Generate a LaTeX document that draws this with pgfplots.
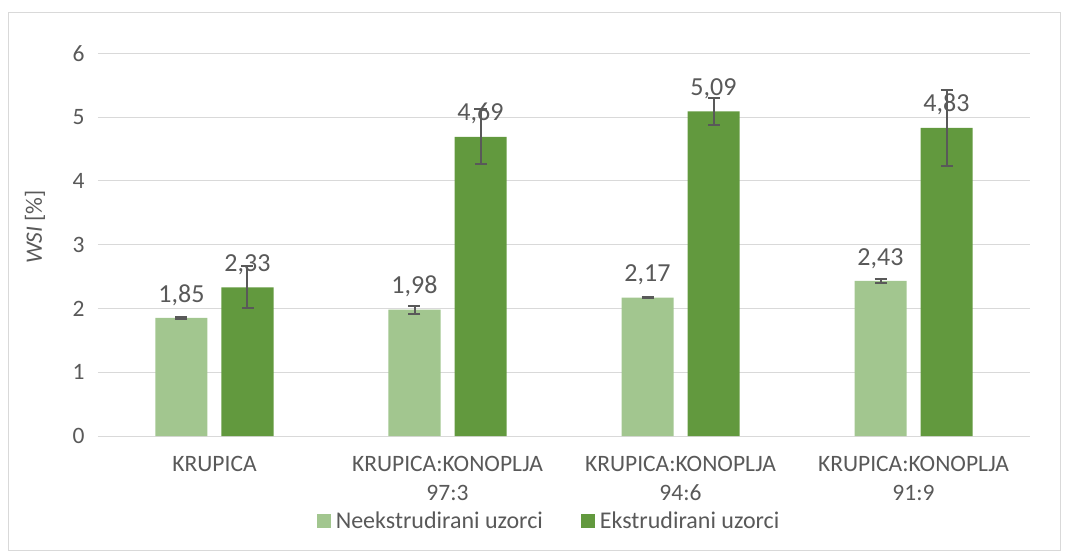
\documentclass[border=0pt]{standalone}
\usepackage{pgfplots}
\pgfplotsset{compat=1.18}
\usepackage{fontspec}
\setmainfont{Carlito}
\definecolor{txt}{HTML}{595959}
\definecolor{gridc}{HTML}{D9D9D9}
\definecolor{lightg}{HTML}{A2C68F}
\definecolor{darkg}{HTML}{62993E}
\begin{document}
\begin{tikzpicture}[x=1pt,y=1pt]
\useasboundingbox (-98,-118) rectangle (968,436);
\draw[gridc, line width=1pt] (-89,-114) rectangle (962,423);
\begin{axis}[
  at={(0,0)}, anchor=south west,
  scale only axis, width=932pt, height=382.8pt,
  xmin=-0.5, xmax=3.5, ymin=0, ymax=6,
  ytick={0,1,2,3,4,5,6}, xtick={0,1,2,3},
  xticklabels={KRUPICA,{KRUPICA:KONOPLJA\\97:3},{KRUPICA:KONOPLJA\\94:6},{KRUPICA:KONOPLJA\\91:9}},
  xticklabel style={align=center, font=\fontsize{23.5}{29}\selectfont, text=txt, anchor=north, yshift=-17pt},
  yticklabel style={font=\fontsize{23.5}{26}\selectfont, text=txt, xshift=-10pt},
  /pgf/number format/assume math mode=true,
  ymajorgrids, grid style={gridc, line width=1pt},
  axis line style={draw=none},
  major tick length=0pt,
  ylabel={\textit{WSI} [\%]},
  ylabel style={at={(axis description cs:-0.0676,0.546)}, anchor=center, font=\fontsize{23.5}{26}\selectfont, text=txt},
  ybar, bar width=52pt,
  legend style={at={(axis description cs:0.484,-0.222)}, anchor=center, legend columns=2, draw=none, fill=none, font=\fontsize{24}{28}\selectfont, text=txt, /tikz/every even column/.append style={column sep=36pt}},
  legend image code/.code={\fill[#1] (0pt,-7pt) rectangle (14pt,7pt);},
  nodes near coords,
  every node near coord/.append style={font=\fontsize{26}{30}\selectfont, text=txt, anchor=south, yshift=9pt, /pgf/number format/.cd, fixed, fixed zerofill, precision=2, use comma, assume math mode=true},
  error bars/error bar style={txt, line width=2pt},
  error bars/error mark options={txt, line width=2pt, rotate=90, mark size=6pt},
]
\addplot[fill=lightg, draw=none, bar shift=-33pt, error bars/.cd, y dir=both, y explicit] coordinates {
  (0,1.85) +- (0,0.01)
  (1,1.98) +- (0,0.06)
  (2,2.17) +- (0,0.01)
  (3,2.43) +- (0,0.03)
};
\addlegendentry{\hspace{3pt}Neekstrudirani uzorci}
\addplot[fill=darkg, draw=none, bar shift=33pt, error bars/.cd, y dir=both, y explicit] coordinates {
  (0,2.33) +- (0,0.33)
  (1,4.69) +- (0,0.43)
  (2,5.09) +- (0,0.21)
  (3,4.83) +- (0,0.60)
};
\addlegendentry{\hspace{3pt}Ekstrudirani uzorci}
\end{axis}
\end{tikzpicture}
\end{document}
